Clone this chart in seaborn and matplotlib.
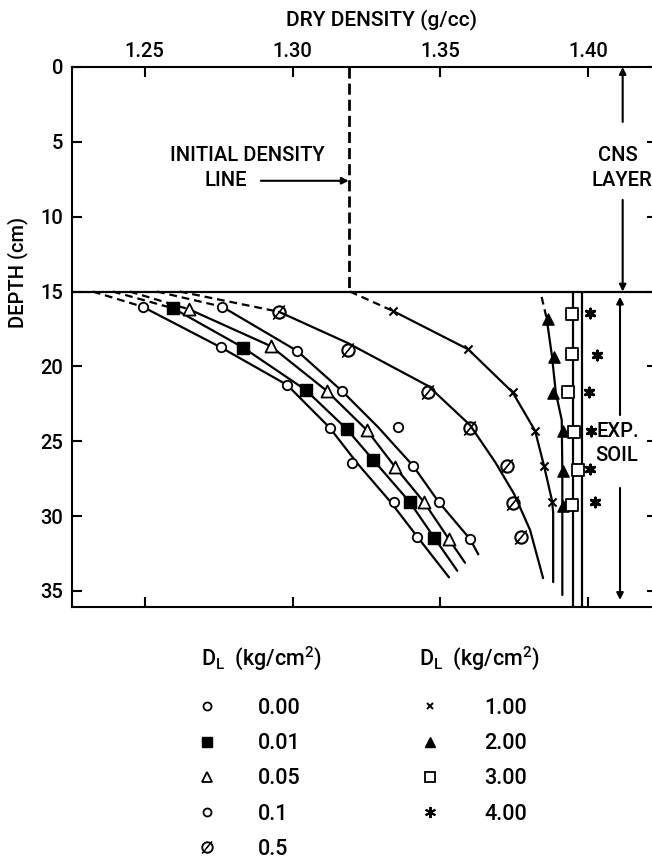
import matplotlib
matplotlib.use("Agg")
import matplotlib.pyplot as plt
import seaborn as sns
from matplotlib.lines import Line2D

# ---------------- data (dry density g/cc, depth cm) ----------------
x_ticks = [1.25, 1.30, 1.35, 1.40]
x_tick_labels = ["1.25", "1.30", "1.35", "1.40"]
y_ticks = [0, 5, 10, 15, 20, 25, 30, 35]
initial_density = 1.319
cns_bottom = 15.0

labels_left = ["0.00", "0.01", "0.05", "0.1", "0.5"]
labels_right = ["1.00", "2.00", "3.00", "4.00"]

# measured points
pts_000_x = [1.2493, 1.2757, 1.2982, 1.3126, 1.3200, 1.3344, 1.3420]
pts_000_d = [16.01, 18.72, 21.24, 24.10, 26.43, 29.04, 31.38]
pts_001_x = [1.2597, 1.2833, 1.3045, 1.3183, 1.3273, 1.3397, 1.3479]
pts_001_d = [16.12, 18.74, 21.58, 24.18, 26.25, 29.08, 31.44]
pts_005_x = [1.2651, 1.2926, 1.3115, 1.3251, 1.3346, 1.3445, 1.3529]
pts_005_d = [16.19, 18.64, 21.62, 24.25, 26.70, 29.08, 31.55]
pts_01_x = [1.2762, 1.3016, 1.3166, 1.3355, 1.3408, 1.3495, 1.3600]
pts_01_d = [16.01, 18.97, 21.62, 24.08, 26.65, 29.08, 31.53]
pts_05_x = [1.2954, 1.3189, 1.3459, 1.3600, 1.3724, 1.3746, 1.3771]
pts_05_d = [16.35, 18.90, 21.69, 24.14, 26.62, 29.15, 31.42]
pts_1_x = [1.3340, 1.3594, 1.3744, 1.3820, 1.3850, 1.3878]
pts_1_d = [16.30, 18.86, 21.73, 24.30, 26.63, 29.04]
pts_2_x = [1.3864, 1.3884, 1.3881, 1.3913, 1.3913, 1.3913]
pts_2_d = [16.85, 19.39, 21.80, 24.30, 26.97, 29.33]
pts_3_x = [1.3946, 1.3946, 1.3932, 1.3952, 1.3964, 1.3946]
pts_3_d = [16.52, 19.17, 21.69, 24.36, 26.92, 29.26]
pts_4_x = [1.4005, 1.4028, 1.4002, 1.4008, 1.4005, 1.4022]
pts_4_d = [16.45, 19.24, 21.69, 24.30, 26.87, 29.04]

# fitted curves (solid part)
crv_000_x = [1.2493, 1.2757, 1.2982, 1.3126, 1.3218, 1.3331, 1.3422, 1.3529]
crv_000_d = [16.01, 18.72, 21.24, 24.10, 26.45, 29.04, 31.38, 34.09]
crv_001_x = [1.2597, 1.2833, 1.3045, 1.3183, 1.3273, 1.3397, 1.3479, 1.3557]
crv_001_d = [16.12, 18.74, 21.58, 24.18, 26.25, 29.08, 31.44, 33.65]
crv_005_x = [1.2651, 1.2926, 1.3115, 1.3251, 1.3346, 1.3445, 1.3529, 1.3583]
crv_005_d = [16.19, 18.64, 21.62, 24.25, 26.70, 29.08, 31.55, 33.11]
crv_01_x = [1.2762, 1.3016, 1.3166, 1.3289, 1.3408, 1.3495, 1.3600, 1.3628]
crv_01_d = [16.01, 18.97, 21.62, 24.05, 26.65, 29.08, 31.53, 32.55]
crv_05_x = [1.2954, 1.3187, 1.3459, 1.3600, 1.3685, 1.3749, 1.3803, 1.3847]
crv_05_d = [16.35, 18.44, 21.31, 23.92, 26.39, 28.52, 30.93, 34.14]
crv_1_x = [1.3340, 1.3594, 1.3744, 1.3820, 1.3850, 1.3878, 1.3881, 1.3881]
crv_1_d = [16.30, 18.86, 21.73, 24.30, 26.63, 29.04, 29.79, 34.40]
crv_2_x = [1.3859, 1.3877, 1.3890, 1.3910, 1.3912, 1.3912]
crv_2_d = [16.79, 19.31, 21.76, 23.58, 26.92, 35.27]
crv_3_x = [1.3948, 1.3948]
crv_3_d = [15.0, 36.07]
crv_4_x = [1.3980, 1.3980]
crv_4_d = [15.0, 36.07]

# dashed lead-in parts (from depth 15 to first point)
dash_000_x = [1.2325, 1.2493]; dash_000_d = [15.0, 16.01]
dash_001_x = [1.2393, 1.2597]; dash_001_d = [15.0, 16.12]
dash_005_x = [1.2450, 1.2651]; dash_005_d = [15.0, 16.19]
dash_01_x = [1.2542, 1.2762]; dash_01_d = [15.0, 16.01]
dash_05_x = [1.2619, 1.2954]; dash_05_d = [15.0, 16.35]
dash_1_x = [1.3194, 1.3340]; dash_1_d = [15.0, 16.30]
dash_2_x = [1.3842, 1.3859]; dash_2_d = [15.36, 16.79]

# ---------------- style ----------------
sns.set_theme(style="ticks")
plt.rcParams['font.family'] = ['Roboto', 'DejaVu Sans']
plt.rcParams['font.weight'] = 'medium'
plt.rcParams['axes.linewidth'] = 1.5
for k in ['text.color', 'axes.labelcolor', 'xtick.color', 'ytick.color', 'axes.edgecolor']:
    plt.rcParams[k] = 'black'

fig = plt.figure(figsize=(6.52, 8.6), dpi=100)
ax = fig.add_axes([71.5 / 652, 1 - 607 / 860, (657 - 71.5) / 652, 540 / 860])

LW = 1.6
DASH = (0, (3.5, 2.2))

def curve(x, d, dashed=False):
    sns.lineplot(x=x, y=d, ax=ax, sort=False, estimator=None, color='black',
                 lw=LW, linestyle=DASH if dashed else '-', zorder=2)

for x, d in [(crv_000_x, crv_000_d), (crv_001_x, crv_001_d), (crv_005_x, crv_005_d),
             (crv_01_x, crv_01_d), (crv_05_x, crv_05_d), (crv_1_x, crv_1_d),
             (crv_2_x, crv_2_d), (crv_3_x, crv_3_d), (crv_4_x, crv_4_d)]:
    curve(x, d)
for x, d in [(dash_000_x, dash_000_d), (dash_001_x, dash_001_d), (dash_005_x, dash_005_d),
             (dash_01_x, dash_01_d), (dash_05_x, dash_05_d), (dash_1_x, dash_1_d),
             (dash_2_x, dash_2_d)]:
    curve(x, d, dashed=True)

# initial density line and layer boundary
sns.lineplot(x=[initial_density, initial_density], y=[0, cns_bottom], ax=ax, sort=False,
             estimator=None, color='black', lw=2.0, linestyle=(0, (4, 1.8)), zorder=2)
ax.axhline(cns_bottom, color='black', lw=1.6, zorder=2)

# marker styles
sty = {
    "0.00": dict(marker='o', s=46, facecolor='white', edgecolor='black', linewidth=1.3),
    "0.01": dict(marker='s', s=70, facecolor='black', edgecolor='black', linewidth=1.0),
    "0.05": dict(marker='^', s=75, facecolor='white', edgecolor='black', linewidth=1.3),
    "0.1": dict(marker='o', s=46, facecolor='white', edgecolor='black', linewidth=1.3),
    "0.5": dict(marker=r'$\emptyset$', s=95, facecolor='black', edgecolor='black', linewidth=0.6),
    "1.00": dict(marker='x', s=34, color='black', linewidth=1.5),
    "2.00": dict(marker='^', s=65, facecolor='black', edgecolor='black', linewidth=1.0),
    "3.00": dict(marker='s', s=65, facecolor='white', edgecolor='black', linewidth=1.3),
    "4.00": dict(marker=(6, 2, 0), s=40, color='black', linewidth=2.2),
}
point_sets = {
    "0.00": (pts_000_x, pts_000_d), "0.01": (pts_001_x, pts_001_d),
    "0.05": (pts_005_x, pts_005_d), "0.1": (pts_01_x, pts_01_d),
    "0.5": (pts_05_x, pts_05_d), "1.00": (pts_1_x, pts_1_d),
    "2.00": (pts_2_x, pts_2_d), "3.00": (pts_3_x, pts_3_d), "4.00": (pts_4_x, pts_4_d),
}
for key, (px, pd_) in point_sets.items():
    sns.scatterplot(x=px, y=pd_, ax=ax, zorder=3, legend=False, **sty[key])

# axes
ax.set_xlim(1.2253, 1.4232)
ax.set_ylim(36.07, 0)
ax.set_xticks(x_ticks)
ax.set_xticklabels(x_tick_labels)
ax.set_yticks(y_ticks)
ax.set_yticklabels([str(v) for v in y_ticks])
ax.tick_params(axis='x', top=True, bottom=True, labeltop=True, labelbottom=False,
               direction='in', length=7, width=1.5, labelsize=14.5, pad=4, colors='black')
ax.tick_params(axis='y', left=True, right=True, direction='in', length=7.5, width=1.5,
               labelsize=14.5, pad=6, colors='black')
ax.set_xlabel('')
ax.set_ylabel('')
for sp in ax.spines.values():
    sp.set_color('black')
    sp.set_linewidth(1.5)

fig.text(382 / 652, 1 - 20 / 860, "DRY DENSITY (g/cc)", ha='center', va='center', fontsize=15)
fig.text(18 / 652, 1 - 272 / 860, "DEPTH (cm)", ha='center', va='center', rotation=90, fontsize=14.5)

# annotations
ax.text(1.2847, 5.88, "INITIAL DENSITY", ha='center', va='center', fontsize=14.5)
ax.text(1.2776, 7.55, "LINE", ha='center', va='center', fontsize=14.5)
arr = dict(arrowstyle='-|>', color='black', lw=1.5, mutation_scale=10, shrinkA=0, shrinkB=0)
ax.annotate('', xy=(initial_density, 7.6), xytext=(1.2893, 7.6), arrowprops=arr)

ax.text(1.4100, 5.88, "CNS", ha='center', va='center', fontsize=14.5, clip_on=False)
ax.text(1.4114, 7.55, "LAYER", ha='center', va='center', fontsize=14.5, clip_on=False)
ax.annotate('', xy=(1.4116, 0.0), xytext=(1.4116, 3.67), arrowprops=arr)
ax.annotate('', xy=(1.4116, cns_bottom), xytext=(1.4116, 8.88), arrowprops=arr)

ax.text(1.4101, 24.36, "EXP.", ha='center', va='center', fontsize=14.5)
ax.text(1.4097, 25.92, "SOIL", ha='center', va='center', fontsize=14.5)
ax.annotate('', xy=(1.4107, 15.34), xytext=(1.4107, 23.25), arrowprops=arr)
ax.annotate('', xy=(1.4107, 35.6), xytext=(1.4107, 28.12), arrowprops=arr)

# legends
def handle(key):
    st = sty[key]
    ms = st['s'] ** 0.5 * 0.85
    fc = st.get('facecolor', 'black')
    ec = st.get('edgecolor', st.get('color', 'black'))
    mew = min(st['linewidth'], 1.4)
    if isinstance(st['marker'], tuple):
        ms = 8
    return Line2D([], [], linestyle='none', marker=st['marker'], markersize=ms,
                  markerfacecolor=fc, markeredgecolor=ec, markeredgewidth=mew)

header = r"D$_\mathregular{L}$  (kg/cm$^\mathregular{2}$)"
fig.text(201 / 652, 1 - 658 / 860, header, ha='left', va='center', fontsize=15.5)
fig.text(419 / 652, 1 - 658 / 860, header, ha='left', va='center', fontsize=15.5)

common = dict(loc='upper left', frameon=False, fontsize=15.5, borderpad=0, borderaxespad=0,
              labelspacing=0.66, handlelength=0.5)
leg1 = fig.legend([handle(k) for k in labels_left], labels_left,
                  bbox_to_anchor=(201.5 / 652, 1 - 698 / 860), handletextpad=2.1, **common)
leg2 = fig.legend([handle(k) for k in labels_right], labels_right,
                  bbox_to_anchor=(424.8 / 652, 1 - 698 / 860), handletextpad=2.25, **common)

fig.savefig("out.png", dpi=100)
